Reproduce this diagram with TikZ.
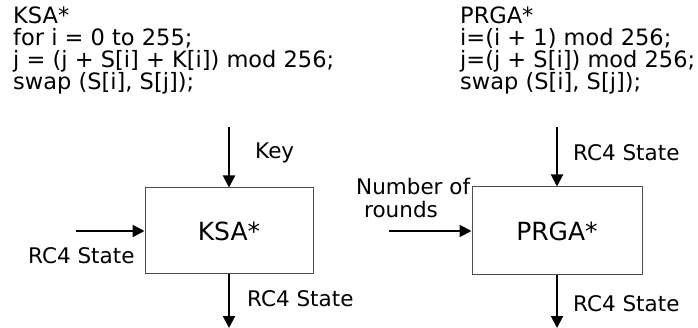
\documentclass[tikz,border=0pt]{standalone}
\usepackage{fontspec}
\setmainfont{DejaVu Sans}
\usetikzlibrary{arrows.meta}
\begin{document}
\begin{tikzpicture}[x=1pt,y=-1pt,
  txt/.style={font=\fontsize{21.5}{24}\selectfont, inner sep=0pt, anchor=base west},
  code/.style={font=\fontsize{22.5}{24}\selectfont, inner sep=0pt, anchor=base west},
  blk/.style={draw=black!70, line width=1pt, inner sep=0pt, font=\fontsize{25}{28}\selectfont},
  arr/.style={line width=2pt, -{Triangle[length=12pt,width=12pt]}}]
\useasboundingbox (0,0) rectangle (698,328);
% code text
\node[code] (k1) at (13,24) {KSA*};
\node[code] (k2) at (13,46) {for i = 0 to 255;};
\node[code] (k3) at (13,68) {j = (j + S[i] + K[i]) mod 256;};
\node[code] (k4) at (13,90) {swap (S[i], S[j]);};
\node[code] (p1) at (460,24) {PRGA*};
\node[code] (p2) at (460,46) {i=(i + 1) mod 256;};
\node[code] (p3) at (460,68) {j=(j + S[i]) mod 256;};
\node[code] (p4) at (460,90) {swap (S[i], S[j]);};
% boxes
\node[blk, minimum width=168pt, minimum height=86pt] (ksa) at (229,231) {\raisebox{-3pt}{KSA*}};
\node[blk, minimum width=170pt, minimum height=88pt] (prga) at (557,231) {\raisebox{-3pt}{PRGA*}};
% connector ends
\coordinate (kin) at (229,127);
\coordinate (kout) at (229,328);
\coordinate (kleft) at (76,231);
\coordinate (pin) at (557,127);
\coordinate (pout) at (557,328);
\coordinate (pleft) at (389,231);
\draw[arr] (kin) -- (ksa.north);
\draw[arr] (ksa.south) -- (kout);
\draw[arr] (kleft) -- (ksa.west);
\draw[arr] (pin) -- (prga.north);
\draw[arr] (prga.south) -- (pout);
\draw[arr] (pleft) -- (prga.west);
% labels
\node[txt] (key) at (255,159) {Key};
\node[txt] (kst1) at (28,264) {RC4 State};
\node[txt] (kst2) at (247,307) {RC4 State};
\node[txt] (pst1) at (573,161) {RC4 State};
\node[txt] (nr1) at (356,195) {Number of};
\node[txt] (nr2) at (364,218) {rounds};
\node[txt] (pst2) at (573,312) {RC4 State};
\end{tikzpicture}
\end{document}
